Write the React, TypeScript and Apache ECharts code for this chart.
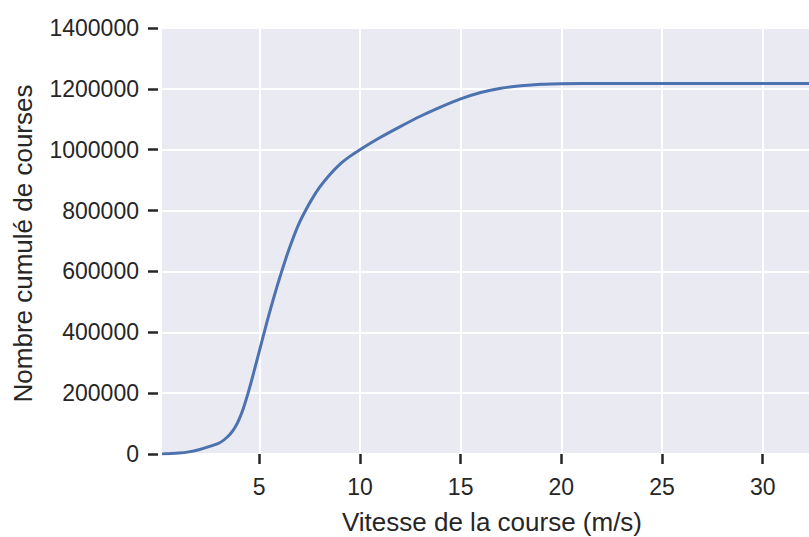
import React, { useEffect, useRef } from "react";
import * as echarts from "echarts";

const speeds = [0.17, 0.5, 1.0, 1.5, 2.0, 2.5, 3.0, 3.2, 3.4, 3.6, 3.8, 4.0, 4.2, 4.4, 4.6, 4.8, 5.0, 5.2, 5.4, 5.6, 5.8, 6.0, 6.2, 6.4, 6.6, 6.8, 7.0, 7.2, 7.6, 8.0, 8.5, 9.0, 9.5, 10, 11, 12, 13, 14, 15, 16, 17, 18, 19, 20, 22, 25, 28, 32.3];
const cumulative = [0, 1000, 3000, 7000, 14000, 24000, 36000, 44000, 55000, 69000, 88000, 114000, 148000, 190000, 237000, 287000, 337000, 388000, 438000, 486000, 532000, 576000, 618000, 658000, 695000, 730000, 761000, 788000, 836000, 877000, 918000, 952000, 978000, 1000000, 1040000, 1076000, 1110000, 1140000, 1167000, 1188000, 1202000, 1210000, 1215000, 1217000, 1218000, 1218000, 1218000, 1218000];
const xTicks = [5, 10, 15, 20, 25, 30];

export default function App() {
  const ref = useRef<HTMLDivElement>(null);
  useEffect(() => {
    if (!ref.current) return;
    const chart = echarts.init(ref.current, undefined, { renderer: "svg" });
    const font = "Liberation Sans, Arial, sans-serif";
    const textColor = "#262626";
    chart.setOption({
      animation: false,
      grid: {
        left: 162,
        top: 28,
        right: 0,
        bottom: 83,
        show: true,
        containLabel: false,
        outerBoundsMode: "none",
        backgroundColor: "#EAEAF2",
        borderWidth: 0,
      },
      xAxis: {
        type: "value",
        min: 0.17,
        max: 32.3,
        offset: 3,
        name: "Vitesse de la course (m/s)",
        nameLocation: "middle",
        nameGap: 52,
        nameTextStyle: {
          fontFamily: font,
          fontSize: 26,
          lineHeight: 25,
          color: textColor,
          padding: [0, 0, 0, 13],
        },
        axisLine: { show: false },
        axisTick: {
          show: true,
          length: 10,
          customValues: xTicks,
          lineStyle: { color: textColor, width: 2.5 },
        },
        axisLabel: {
          customValues: xTicks,
          margin: 18,
          fontFamily: font,
          fontSize: 23,
          color: textColor,
          formatter: (v: number) => String(v),
        },
        splitLine: { show: true, lineStyle: { color: "#ffffff", width: 2 } },
      },
      yAxis: {
        type: "value",
        min: 0,
        max: 1400000,
        interval: 200000,
        offset: 4,
        name: "Nombre cumulé de courses",
        nameLocation: "middle",
        nameGap: 122,
        nameTextStyle: { fontFamily: font, fontSize: 26, color: textColor, padding: [0, 5, 0, 0] },
        axisLine: { show: false },
        axisTick: {
          show: true,
          length: 10,
          lineStyle: { color: textColor, width: 2.5 },
        },
        axisLabel: {
          margin: 19,
          fontFamily: font,
          fontSize: 23,
          color: textColor,
          formatter: (v: number) => String(v),
        },
        splitLine: { show: true, lineStyle: { color: "#ffffff", width: 2 } },
      },
      series: [
        {
          type: "line",
          data: speeds.map((s, i) => [s, cumulative[i]]),
          showSymbol: false,
          smooth: 0.3,
          lineStyle: { color: "#4C72B0", width: 3 },
          itemStyle: { color: "#4C72B0" },
        },
      ],
    });
    return () => chart.dispose();
  }, []);
  return (
    <div
      ref={ref}
      style={{ position: "fixed", left: 0, top: 0, width: 809, height: 537, background: "#ffffff" }}
    />
  );
}
